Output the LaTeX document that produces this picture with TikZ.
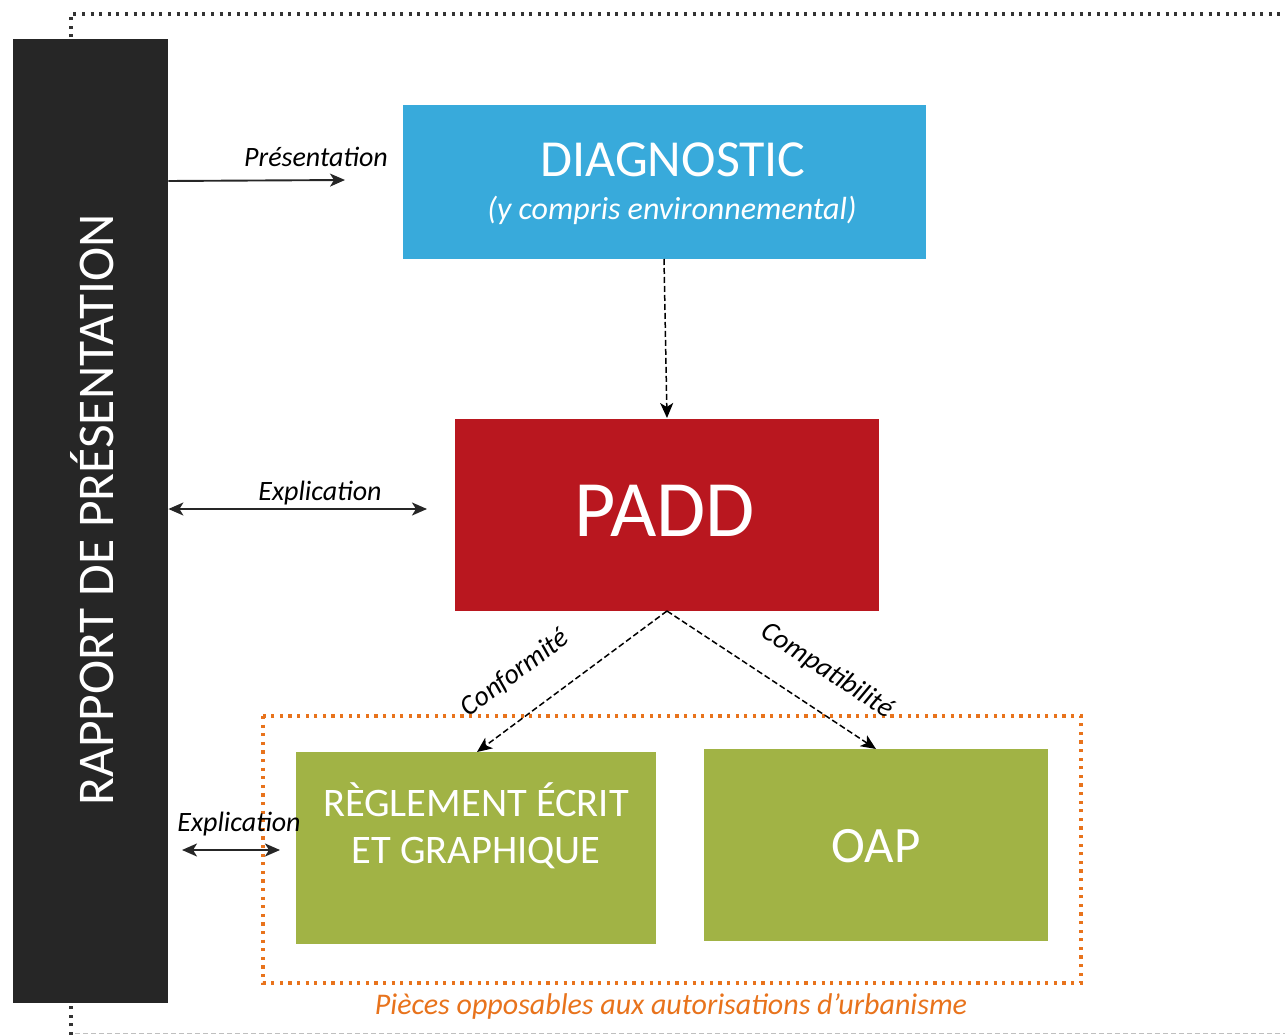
\documentclass[tikz,border=0pt]{standalone}
\usepackage{fontspec}
\setmainfont{Carlito}
\usetikzlibrary{arrows.meta}
\definecolor{barcol}{HTML}{262626}
\definecolor{diagblue}{HTML}{38AADB}
\definecolor{paddred}{HTML}{B9171F}
\definecolor{pgreen}{HTML}{A1B345}
\definecolor{porange}{HTML}{E8731C}
\tikzset{
  box/.style={draw=none, inner sep=0pt, anchor=north west},
  conn/.style={line width=1.9pt, draw=black!85, -{Stealth[length=15pt,width=13pt,inset=4pt]}},
  dconn/.style={line width=1.9pt, draw=black!85, {Stealth[length=15pt,width=13pt,inset=4pt]}-{Stealth[length=15pt,width=13pt,inset=4pt]}},
  dashconn/.style={line width=1.5pt, draw=black, dash pattern=on 6pt off 3pt, -{Stealth[length=15pt,width=13pt,inset=4pt]}},
  lbl/.style={font=\fontsize{28}{30}\selectfont\itshape, inner sep=0pt},
  wtxt/.style={text=white, inner sep=0pt}
}
\begin{document}
\begin{tikzpicture}[x=1pt,y=-1pt]
\useasboundingbox (0,0) rectangle (1285,1035);
% outer dotted frame
\draw[line width=3.2pt, draw=black!80, dash pattern=on 3pt off 5.6pt] (71,1035) -- (71,14) -- (1285,14);
\draw[line width=1pt, draw=black!25, dash pattern=on 5pt off 3pt] (75,1033) -- (1285,1033);
% bar
\node[box, fill=barcol, minimum width=155pt, minimum height=964pt] (bar) at (13,39) {};
\node[wtxt, rotate=90, font=\fontsize{51.5}{54}\selectfont] (bartxt) at (92,510) {RAPPORT DE PRÉSENTATION};
% diagnostic
\node[box, fill=diagblue, minimum width=523pt, minimum height=154pt] (diag) at (403,105) {};
\node[wtxt, font=\fontsize{52}{56}\selectfont] (diagt) at (673,160) {DIAGNOSTIC};
\node[wtxt, font=\fontsize{32}{34}\selectfont\itshape] (diags) at (672,210) {(y compris environnemental)};
% padd
\node[box, fill=paddred, minimum width=424pt, minimum height=192pt] (padd) at (455,419) {};
\node[wtxt, font=\fontsize{80}{84}\selectfont] (paddt) at (665,511) {PADD};
% orange frame
\draw[line width=3.4pt, draw=porange, dash pattern=on 3.2pt off 5.4pt] (263,716) rectangle (1081,983);
\node[text=porange, font=\fontsize{30}{32}\selectfont\itshape, inner sep=0pt] (plabel) at (671,1006) {Pièces opposables aux autorisations d’urbanisme};
% reglement
\node[box, fill=pgreen, minimum width=360pt, minimum height=192pt] (regl) at (296,752) {};
\node[wtxt, font=\fontsize{40.5}{47}\selectfont, align=center] (reglt) at (476,826) {RÈGLEMENT ÉCRIT\\ET GRAPHIQUE};
% oap
\node[box, fill=pgreen, minimum width=344pt, minimum height=192pt] (oap) at (704,749) {};
\node[wtxt, font=\fontsize{51}{54}\selectfont] (oapt) at (876,846) {OAP};
% connectors
\coordinate (p1) at (345,180);
\draw[conn] (bar.east |- 0,181) -- (p1);
\node[lbl] (lp) at (316,157) {Présentation};
\draw[dashconn] (664,259) -- (667,418);
\coordinate (e1) at (427,509);
\draw[dconn] (bar.east |- 0,509) -- (e1);
\node[lbl] (le1) at (320,493) {Explication};
\coordinate (pb) at (667,611);
\draw[dashconn] (pb) -- (477,752);
\draw[dashconn] (pb) -- (876,749);
\node[lbl, rotate=36.5] (lconf) at (515,673) {Conformité};
\node[lbl, rotate=-33] (lcomp) at (827,671) {Compatibilité};
\coordinate (e2a) at (182,850);
\coordinate (e2b) at (280,850);
\draw[dconn] (e2a) -- (e2b);
\node[lbl] (le2) at (239,824) {Explication};
\end{tikzpicture}
\end{document}
